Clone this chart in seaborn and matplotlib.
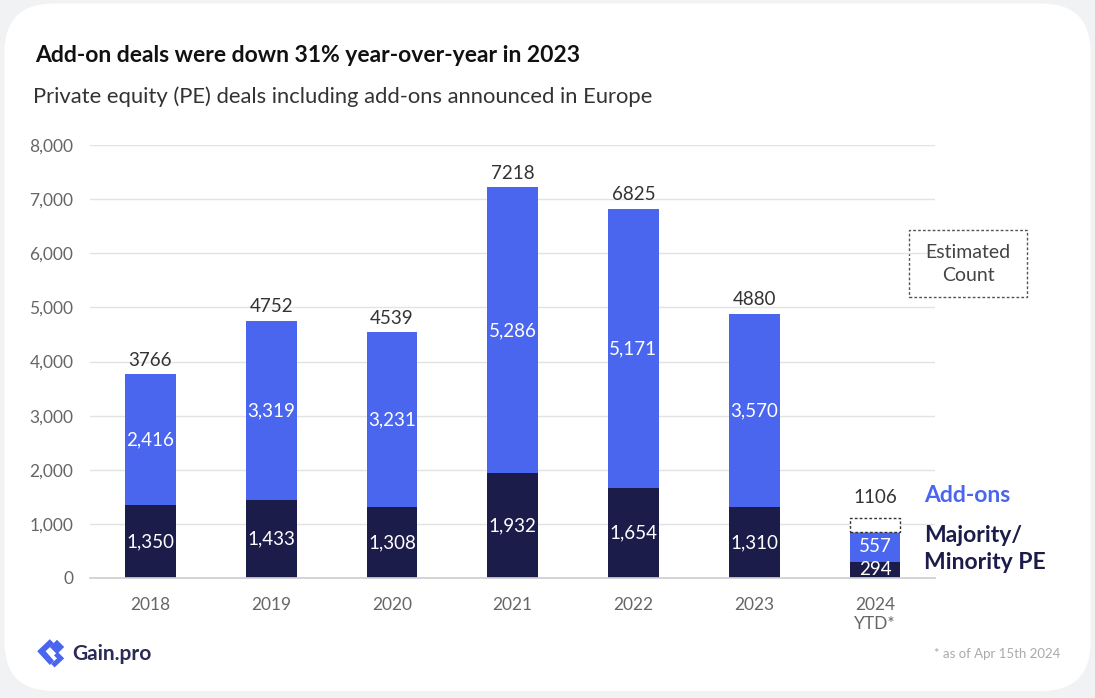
import matplotlib
matplotlib.use("Agg")
import matplotlib.pyplot as plt
from matplotlib.patches import FancyBboxPatch, Rectangle, Polygon
import seaborn as sns
import pandas as pd

years = ["2018", "2019", "2020", "2021", "2022", "2023", "2024\nYTD*"]
majority_minority = [1350, 1433, 1308, 1932, 1654, 1310, 294]
add_ons = [2416, 3319, 3231, 5286, 5171, 3570, 557]
estimated_2024 = 1106

BLUE = "#4A66EE"
NAVY = "#1C1C4B"
FONT = ["Lato", "DejaVu Sans"]

sns.set_theme(style="white")
plt.rcParams["font.family"] = FONT

df = pd.DataFrame({
    "year": years,
    "pe": majority_minority,
    "addons": add_ons,
})
df["total"] = df["pe"] + df["addons"]

fig = plt.figure(figsize=(10.95, 6.98), dpi=100)
fig.patch.set_facecolor("#F1F2F4")

# white rounded card behind everything
card = FancyBboxPatch((0.004, 0.01), 0.992, 0.985,
                      boxstyle="round,pad=0,rounding_size=0.045",
                      transform=fig.transFigure, facecolor="white",
                      edgecolor="none", mutation_aspect=1095 / 698, zorder=-10)
fig.patches.append(card)

ax = fig.add_axes([0.0822, 0.172, 0.772, 0.620])
ax.set_zorder(2)
ax.set_facecolor("none")

bw = 0.42
sns.barplot(data=df, x="year", y="total", color=BLUE, width=bw,
            saturation=1, linewidth=0, ax=ax, zorder=3)
sns.barplot(data=df, x="year", y="pe", color=NAVY, width=bw,
            saturation=1, linewidth=0, ax=ax, zorder=4)

# estimated remainder for the current year
last = len(years) - 1
ax.bar(last, estimated_2024 - df["total"].iloc[last], bottom=df["total"].iloc[last],
       width=bw, facecolor="white", edgecolor="#333333", linestyle=(0, (2, 1.5)),
       linewidth=1, zorder=4)

ax.set_ylim(0, 8000)
ax.set_xlim(-0.5, 6.5)
ax.set_yticks(range(0, 8001, 1000))
ax.set_yticklabels([f"{v:,}" for v in range(0, 8001, 1000)])
ax.grid(axis="y", color="#E3E3E3", linewidth=1, zorder=0)
ax.set_axisbelow(True)
for s in ["top", "right", "left"]:
    ax.spines[s].set_visible(False)
ax.spines["bottom"].set_color("#CFCFCF")
ax.spines["bottom"].set_zorder(5)
ax.set_xlabel("")
ax.set_ylabel("")
ax.tick_params(axis="y", length=0, labelsize=12.5, labelcolor="#666666", pad=12)
ax.tick_params(axis="x", length=0, labelsize=12.5, labelcolor="#666666", pad=14)
ax.set_xticks([i + 0.5 for i in range(-1, 7)], minor=True)
ax.tick_params(axis="x", which="minor", length=6, color="#CFCFCF", width=1)

for i in range(len(years)):
    pe = df["pe"].iloc[i]
    ad = df["addons"].iloc[i]
    tot = df["total"].iloc[i]
    ax.text(i, pe / 2, f"{pe:,}", ha="center", va="center", color="white",
            fontsize=13.5, zorder=6)
    ax.text(i, pe + ad / 2, f"{ad:,}", ha="center", va="center", color="white",
            fontsize=13.5, zorder=6)
    if i < last:
        ax.annotate(f"{tot}", (i, tot), xytext=(0, 4), textcoords="offset points",
                    ha="center", va="bottom", fontsize=13.5, color="#333333")
ax.annotate(f"{estimated_2024}", (last, estimated_2024), xytext=(0, 9),
            textcoords="offset points", ha="center", va="bottom",
            fontsize=13.5, color="#333333")

# titles
fig.text(35 / 1095, 1 - 55 / 698, "Add-on deals were down 31% year-over-year in 2023",
         fontsize=16.5, fontweight="bold", color="#111111", va="center")
fig.text(33 / 1095, 1 - 97 / 698,
         "Private equity (PE) deals including add-ons announced in Europe",
         fontsize=15.8, color="#333333", va="center")

# series labels
fig.text(924 / 1095, 1 - 495 / 698, "Add-ons", fontsize=16.5, fontweight="bold",
         color=BLUE, va="center")
fig.text(924 / 1095, 1 - 549 / 698, "Majority/\nMinority PE", fontsize=16.5,
         fontweight="bold", color=NAVY, va="center", linespacing=1.3)

# estimated count key
key = Rectangle((909 / 1095, 1 - 297 / 698), 118 / 1095, 67 / 698,
                transform=fig.transFigure, fill=False, edgecolor="#555555",
                linestyle=(0, (2, 1.5)), linewidth=1)
fig.patches.append(key)
fig.text(968 / 1095, 1 - 264 / 698, "Estimated\nCount", ha="center", va="center",
         fontsize=14, color="#444444", linespacing=1.45)

# footnote
fig.text(1060 / 1095, 1 - 654 / 698, "* as of Apr 15th 2024", ha="right",
         va="center", fontsize=9.5, color="#AAAAAA")

# brand mark
logo_ax = fig.add_axes([36 / 1095, 1 - 668 / 698, 30 / 1095, 30 / 698])
logo_ax.set_zorder(2)
logo_ax.set_xlim(0, 10)
logo_ax.set_ylim(0, 10)
logo_ax.axis("off")
logo_ax.add_patch(Polygon([(4.6, 9.6), (0.4, 5.6), (4.6, 1.0), (6.0, 2.4),
                           (3.2, 5.6), (6.0, 8.2)], closed=True,
                          facecolor=BLUE, edgecolor="none"))
logo_ax.add_patch(Polygon([(7.0, 9.4), (9.4, 7.0), (7.0, 4.6), (4.6, 7.0)],
                          closed=True, facecolor=BLUE, edgecolor="none"))
logo_ax.add_patch(Polygon([(7.2, 5.4), (9.4, 3.2), (6.2, 0.2), (5.0, 1.4),
                           (7.0, 3.2), (6.0, 4.2)], closed=True,
                          facecolor=BLUE, edgecolor="none"))
fig.text(72 / 1095, 1 - 654 / 698, "Gain.pro", fontsize=15, fontweight="bold",
         color="#2B2B55", va="center")

fig.savefig("out.png", dpi=100, facecolor=fig.get_facecolor())
